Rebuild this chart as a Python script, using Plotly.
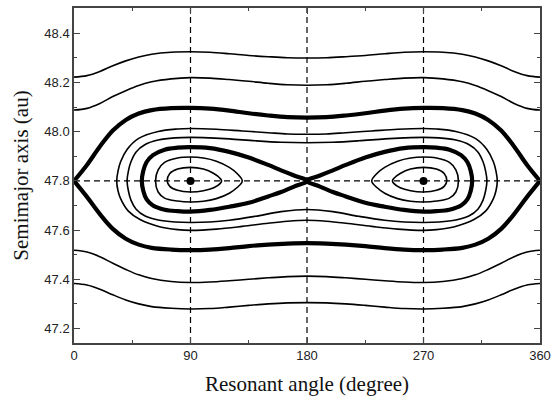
import plotly.graph_objects as go

# Resonant angle samples (degrees) shared by the circulating curves
PHI = [0, 10, 20, 30, 40, 50, 60, 75, 90, 105, 120, 135, 150, 165, 180,
       195, 210, 225, 240, 255, 270, 285, 300, 310, 320, 330, 340, 350, 360]

# Circulating orbits above the resonance (au)
CIRC_TOP_1 = [48.222, 48.228, 48.245, 48.268, 48.288, 48.304, 48.315, 48.323, 48.325, 48.323,
              48.317, 48.310, 48.305, 48.301, 48.300, 48.301, 48.305, 48.310, 48.317, 48.323,
              48.325, 48.323, 48.315, 48.304, 48.288, 48.268, 48.245, 48.228, 48.222]
CIRC_TOP_2 = [48.088, 48.095, 48.115, 48.143, 48.167, 48.188, 48.203, 48.215, 48.220, 48.218,
              48.212, 48.205, 48.197, 48.191, 48.189, 48.191, 48.197, 48.205, 48.212, 48.218,
              48.220, 48.215, 48.203, 48.188, 48.167, 48.143, 48.115, 48.095, 48.088]
# Circulating orbits below the resonance (au)
CIRC_BOT_1 = [47.518, 47.511, 47.492, 47.465, 47.440, 47.418, 47.403, 47.391, 47.387, 47.389,
              47.394, 47.400, 47.406, 47.411, 47.413, 47.411, 47.406, 47.400, 47.394, 47.389,
              47.387, 47.391, 47.403, 47.418, 47.440, 47.465, 47.492, 47.511, 47.518]
CIRC_BOT_2 = [47.383, 47.377, 47.360, 47.337, 47.316, 47.300, 47.289, 47.282, 47.279, 47.281,
              47.287, 47.294, 47.300, 47.304, 47.305, 47.304, 47.300, 47.294, 47.287, 47.281,
              47.279, 47.282, 47.289, 47.300, 47.316, 47.337, 47.360, 47.377, 47.383]

# Outer separatrix (saddle at 0/360 degrees)
SEP_OUT_TOP = [47.800, 47.865, 47.940, 48.005, 48.048, 48.074, 48.088, 48.096, 48.097, 48.094,
               48.086, 48.075, 48.066, 48.059, 48.057, 48.059, 48.066, 48.075, 48.086, 48.094,
               48.097, 48.096, 48.088, 48.074, 48.048, 48.005, 47.940, 47.865, 47.800]
SEP_OUT_BOT = [47.800, 47.735, 47.665, 47.605, 47.565, 47.541, 47.528, 47.521, 47.519, 47.521,
               47.527, 47.535, 47.541, 47.545, 47.547, 47.545, 47.541, 47.535, 47.527, 47.521,
               47.519, 47.521, 47.528, 47.541, 47.565, 47.605, 47.665, 47.735, 47.800]

# Orbits enclosing both libration islands
WRAP_A_PHI = [180, 200, 220, 240, 255, 270, 282, 295, 305, 312, 316, 318, 319,
              318, 316, 312, 305, 295, 282, 270, 255, 240, 220, 200, 180,
              160, 140, 120, 105, 90, 78, 65, 55, 48, 44, 42, 41,
              42, 44, 48, 55, 65, 78, 90, 105, 120, 140, 160, 180]
WRAP_A_A = [47.955, 47.957, 47.963, 47.971, 47.975, 47.977, 47.975, 47.966, 47.948, 47.918, 47.878, 47.840, 47.800,
            47.760, 47.722, 47.685, 47.657, 47.641, 47.633, 47.631, 47.633, 47.640, 47.656, 47.675, 47.684,
            47.675, 47.656, 47.640, 47.633, 47.631, 47.633, 47.641, 47.657, 47.685, 47.722, 47.760, 47.800,
            47.840, 47.878, 47.918, 47.948, 47.966, 47.975, 47.977, 47.975, 47.971, 47.963, 47.957, 47.955]
WRAP_B_PHI = [180, 195, 210, 230, 250, 270, 280, 295, 310, 319, 324, 326, 327,
              326, 324, 318, 309, 294, 280, 270, 250, 230, 210, 195, 180,
              165, 150, 130, 110, 90, 80, 66, 51, 42, 36, 34, 33,
              34, 36, 41, 50, 65, 80, 90, 110, 130, 150, 165, 180]
WRAP_B_A = [47.990, 47.991, 47.996, 48.003, 48.010, 48.013, 48.011, 48.001, 47.973, 47.928, 47.878, 47.840, 47.800,
            47.760, 47.728, 47.677, 47.643, 47.614, 47.602, 47.599, 47.604, 47.615, 47.628, 47.636, 47.640,
            47.636, 47.628, 47.615, 47.604, 47.599, 47.602, 47.614, 47.643, 47.677, 47.728, 47.760, 47.800,
            47.840, 47.878, 47.928, 47.973, 48.001, 48.011, 48.013, 48.010, 48.003, 47.996, 47.991, 47.990]

# Inner separatrix: two lobes crossing at 180 degrees
LOBE_L_PHI = [180, 170, 160, 150, 135, 120, 105, 90, 80, 70, 61, 56, 53.5, 52.4,
              53.5, 56, 61, 70, 80, 90, 105, 120, 135, 150, 160, 170, 180]
LOBE_R_PHI = [180, 190, 200, 210, 225, 240, 255, 270, 280, 290, 299, 304, 306.5, 307.6,
              306.5, 304, 299, 290, 280, 270, 255, 240, 225, 210, 200, 190, 180]
LOBE_A = [47.800, 47.822, 47.843, 47.865, 47.895, 47.918, 47.933, 47.937, 47.935, 47.927, 47.905, 47.876, 47.840, 47.800,
          47.760, 47.726, 47.700, 47.683, 47.677, 47.675, 47.682, 47.695, 47.711, 47.737, 47.755, 47.777, 47.800]

# Libration orbits inside each island
OVAL1_L_PHI = [90, 100, 108, 113, 114, 113, 108, 100, 90, 80, 74, 72, 74, 80, 90]
OVAL1_R_PHI = [270, 260, 252, 247, 246, 247, 252, 260, 270, 280, 286, 288, 286, 280, 270]
OVAL1_A = [47.855, 47.848, 47.830, 47.810, 47.800, 47.790, 47.772, 47.760, 47.755, 47.762, 47.778, 47.800, 47.830, 47.848, 47.855]
OVAL2_L_PHI = [90, 100, 110, 120, 126, 130, 126, 120, 110, 100, 90, 80, 70, 65, 63, 65, 70, 80, 90]
OVAL2_R_PHI = [270, 260, 250, 240, 234, 230, 234, 240, 250, 260, 270, 280, 290, 295, 297, 295, 290, 280, 270]
OVAL2_A = [47.897, 47.893, 47.880, 47.855, 47.830, 47.800, 47.773, 47.750, 47.728, 47.717, 47.714, 47.718, 47.730,
           47.755, 47.800, 47.845, 47.875, 47.893, 47.897]

# Stable equilibrium points
CENTER_PHI = [90, 270]
CENTER_A = [47.8, 47.8]

# Reference lines
REF_A = 47.8
REF_PHI = [90, 180, 270]

X_TICKS = [0, 90, 180, 270, 360]

THIN = 1.6
THICK = 4.2

fig = go.Figure()


def add_curve(x, y, width):
    fig.add_trace(go.Scatter(
        x=x, y=y, mode="lines",
        line=dict(color="black", width=width, shape="spline", smoothing=1.0),
        hoverinfo="skip", showlegend=False,
    ))


# Dashed guide lines
fig.add_hline(y=REF_A, line=dict(color="black", width=1.2, dash="6px,4px"), layer="below")
for p in REF_PHI:
    fig.add_vline(x=p, line=dict(color="black", width=1.2, dash="6px,4px"), layer="below")

for ys in (CIRC_TOP_1, CIRC_TOP_2, CIRC_BOT_1, CIRC_BOT_2):
    add_curve(PHI, ys, THIN)
add_curve(PHI, SEP_OUT_TOP, THICK)
add_curve(PHI, SEP_OUT_BOT, THICK)
add_curve(WRAP_A_PHI, WRAP_A_A, THIN)
add_curve(WRAP_B_PHI, WRAP_B_A, THIN)
add_curve(LOBE_L_PHI, LOBE_A, THICK)
add_curve(LOBE_R_PHI, LOBE_A, THICK)
add_curve(OVAL1_L_PHI, OVAL1_A, THIN)
add_curve(OVAL1_R_PHI, OVAL1_A, THIN)
add_curve(OVAL2_L_PHI, OVAL2_A, THIN)
add_curve(OVAL2_R_PHI, OVAL2_A, THIN)

fig.add_trace(go.Scatter(
    x=CENTER_PHI, y=CENTER_A, mode="markers",
    marker=dict(color="black", size=8),
    hoverinfo="skip", showlegend=False,
))

axis_common = dict(
    showline=True, linecolor="#444", linewidth=1.5, mirror="allticks",
    ticks="inside", ticklen=6, tickwidth=1.2, tickcolor="#444",
    showgrid=False, zeroline=False, automargin=False,
    tickfont=dict(family="Liberation Sans, Arial, sans-serif", size=13, color="#222"),
)

fig.update_xaxes(
    range=[0, 360], tickvals=X_TICKS,
    minor=dict(ticks="inside", ticklen=3.5, tickwidth=1.2, tickcolor="#444", dtick=45, tick0=0),
    title=dict(text="Resonant angle (degree)", standoff=14,
               font=dict(family="Liberation Serif, Times New Roman, serif", size=21, color="#111")),
    **axis_common,
)
fig.update_yaxes(
    range=[47.141, 48.503], tick0=47.2, dtick=0.2, tickformat=".1f",
    minor=dict(ticks="inside", ticklen=3.5, tickwidth=1.2, tickcolor="#444", dtick=0.1, tick0=47.2),
    title=dict(text="Semimajor axis (au)", standoff=10,
               font=dict(family="Liberation Serif, Times New Roman, serif", size=21, color="#111")),
    **axis_common,
)

fig.update_layout(
    width=551, height=408,
    margin=dict(l=74, r=11, t=8, b=65),
    paper_bgcolor="white", plot_bgcolor="white",
)

fig.write_html("out.html")
